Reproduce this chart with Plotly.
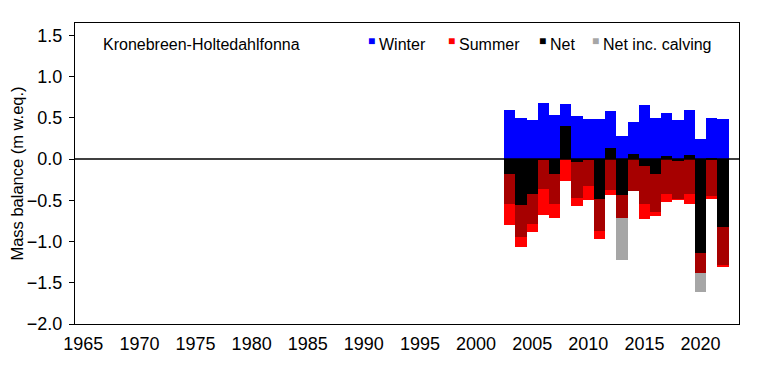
import plotly.graph_objects as go

years = list(range(2003, 2023))
winter = [0.60, 0.50, 0.47, 0.68, 0.53, 0.67, 0.52, 0.49, 0.49, 0.58,
          0.28, 0.45, 0.65, 0.50, 0.56, 0.47, 0.59, 0.24, 0.50, 0.49]
summer = [-0.80, -1.07, -0.89, -0.68, -0.71, -0.27, -0.57, -0.50, -0.97, -0.44,
          -0.72, -0.39, -0.73, -0.69, -0.52, -0.50, -0.54, -1.38, -0.49, -1.31]
net = [-0.18, -0.56, -0.42, -0.01, -0.18, 0.40, -0.04, -0.01, -0.48, 0.14,
       -0.43, 0.065, -0.08, -0.18, 0.04, -0.02, 0.05, -1.14, 0.01, -0.82]
net_calving = [-0.55, -0.94, -0.79, -0.36, -0.55, None, -0.47, -0.33, -0.87, -0.37,
               -1.22, -0.39, -0.54, -0.64, -0.42, -0.49, -0.42, -1.61, -0.45, -1.29]
x_ticks = [1965, 1970, 1975, 1980, 1985, 1990, 1995, 2000, 2005, 2010, 2015, 2020]
y_ticks = [1.5, 1.0, 0.5, 0.0, -0.5, -1.0, -1.5, -2.0]
title_text = "Kronebreen-Holtedahlfonna"

FONT = "Liberation Sans, Arial, sans-serif"
colors = {"Winter": "#0000FF", "Summer": "#FF0000", "Net": "#000000",
          "Net inc. calving": "rgba(0,0,0,0.35)"}

fig = go.Figure()
for name, vals in [("Winter", winter), ("Summer", summer),
                   ("Net inc. calving", net_calving), ("Net", net)]:
    fig.add_trace(go.Bar(x=years, y=vals, name=name, showlegend=False,
                         marker=dict(color=colors[name], line=dict(width=0))))

# page body has an 8px default margin, so the figure is sized/offset to compensate
fig.update_layout(
    template="none",
    barmode="overlay", bargap=0,
    width=750, height=372,
    margin=dict(l=67, r=19, t=15, b=56),
    paper_bgcolor="white", plot_bgcolor="white",
    font=dict(family=FONT, size=16, color="black"),
    xaxis=dict(range=[1964.26, 2023.43], tickvals=x_ticks, ticks="",
               automargin=False, ticklabelstandoff=3,
               showgrid=False, zeroline=False, showline=True, linecolor="black",
               linewidth=1.3, mirror=True, tickfont=dict(size=18)),
    yaxis=dict(range=[-2.0, 1.65], tickvals=y_ticks, tickformat=".1f",
               automargin=False, ticklabelstandoff=3,
               ticks="outside", ticklen=5, tickcolor="black", tickwidth=1.3,
               showgrid=False, zeroline=False, showline=True, linecolor="black",
               linewidth=1.3, mirror=True, tickfont=dict(size=18),
               title=dict(text="Mass balance (m w.eq.)", font=dict(size=16.5), standoff=5)),
)
fig.add_shape(type="line", xref="paper", yref="y", x0=0, x1=1, y0=0, y1=0,
              line=dict(color="black", width=1.5), layer="above")

fig.add_annotation(text=title_text, xref="paper", yref="paper", x=0.039, y=0.93,
                   xanchor="left", yanchor="middle", showarrow=False,
                   font=dict(size=16))

legend_items = [("Winter", "#0000FF", 0.4383), ("Summer", "#FF0000", 0.5587),
                ("Net", "#000000", 0.6958), ("Net inc. calving", "#A6A6A6", 0.7756)]
for name, col, xp in legend_items:
    fig.add_annotation(text="■", xref="paper", yref="paper", x=xp, y=0.93,
                       xanchor="left", yanchor="middle", yshift=3, showarrow=False,
                       font=dict(size=12, color=col))
    fig.add_annotation(text=name, xref="paper", yref="paper", x=xp + 0.0166, y=0.93,
                       xanchor="left", yanchor="middle", showarrow=False,
                       font=dict(size=16))

fig.write_html("out.html")
